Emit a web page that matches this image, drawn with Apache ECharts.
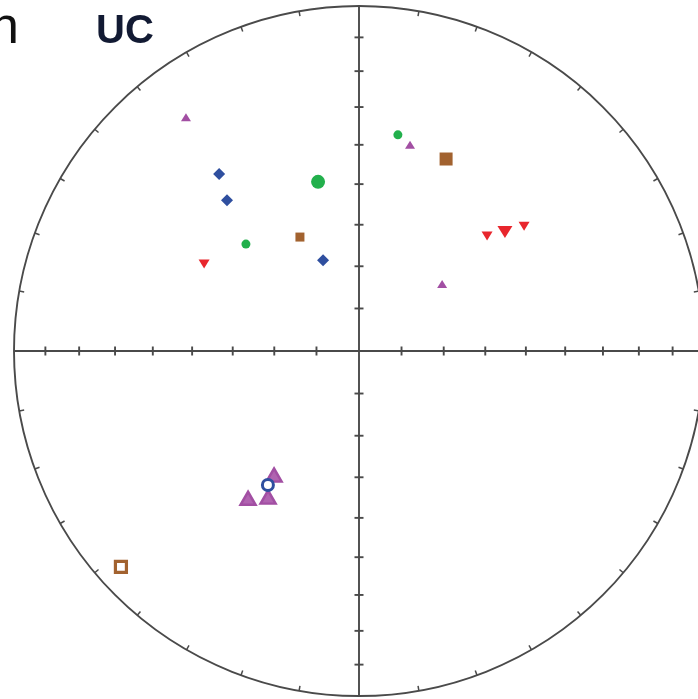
<!DOCTYPE html>
<html>
<head>
<meta charset="utf-8">
<style>
  html, body { margin: 0; padding: 0; background: #fff; }
  #chart { width: 698px; height: 699px; }
</style>
<script src="https://cdn.jsdelivr.net/npm/echarts@6/dist/echarts.min.js"></script>
</head>
<body>
<div id="chart"></div>
<script>
// Orientation data as [trend, plunge] in degrees, plotted on an equal-area (Schmidt) net.
const purpleSmall = [[323.5, 16.8], [13.9, 38.4], [51.1, 64.7]];
const blueDiamond = [[321.7, 34.9], [318.8, 41.5], [338.4, 66.9]];
const greenLarge = [[346.4, 48.2]];
const greenSmall = [[313.4, 52.8], [10.2, 36.5]];
const brownSmall = [[332.6, 59.5]];
const brownLarge = [[24.4, 38.8]];
const redSmall = [[299.3, 47.3], [48.1, 48.7], [52.9, 39.8]];
const redLarge = [[50.8, 44.6]];
const purpleOpen = [[214.4, 54.1], [211.9, 48.7], [217.0, 45.6]];
const blueOpen = [[214.2, 51.2]];
const brownOpen = [[227.8, 7.6]];

// Net furniture: plunge ticks along the N-S / E-W diameters, azimuth ticks on the primitive.
const plungeTicks = [10, 20, 30, 40, 50, 60, 70, 80];
const azimuthStep = 10;

const D2R = Math.PI / 180;
function eqArea(tp) {
  const t = tp[0] * D2R, p = tp[1] * D2R;
  const r = Math.SQRT2 * Math.sin((Math.PI / 2 - p) / 2);
  return [r * Math.sin(t), r * Math.cos(t)];
}
function proj(list) { return list.map(eqArea); }

const frameStroke = '#4a4a4a';

function renderNet(params, api) {
  const c = api.coord([0, 0]);
  const e = api.coord([1, 0]);
  const R = e[0] - c[0];
  const children = [];
  children.push({
    type: 'circle',
    shape: { cx: c[0], cy: c[1], r: R },
    style: { fill: null, stroke: frameStroke, lineWidth: 1.9 }
  });
  children.push({
    type: 'line',
    shape: { x1: c[0] - R, y1: c[1], x2: c[0] + R, y2: c[1] },
    style: { stroke: frameStroke, lineWidth: 1.9 }
  });
  children.push({
    type: 'line',
    shape: { x1: c[0], y1: c[1] - R, x2: c[0], y2: c[1] + R },
    style: { stroke: frameStroke, lineWidth: 1.9 }
  });
  // plunge ticks on both diameters
  plungeTicks.forEach(function (pl) {
    const rr = Math.SQRT2 * Math.sin((90 - pl) / 2 * D2R) * R;
    const h = 4.5;
    [1, -1].forEach(function (s) {
      children.push({
        type: 'line',
        shape: { x1: c[0] + s * rr, y1: c[1] - h, x2: c[0] + s * rr, y2: c[1] + h },
        style: { stroke: frameStroke, lineWidth: 1.9 }
      });
      children.push({
        type: 'line',
        shape: { x1: c[0] - h, y1: c[1] + s * rr, x2: c[0] + h, y2: c[1] + s * rr },
        style: { stroke: frameStroke, lineWidth: 1.9 }
      });
    });
  });
  // azimuth ticks on the primitive circle, pointing inward
  for (let a = 0; a < 360; a += azimuthStep) {
    if (a % 90 === 0) continue;
    const sx = Math.sin(a * D2R), sy = -Math.cos(a * D2R);
    const L = 5;
    children.push({
      type: 'line',
      shape: {
        x1: c[0] + sx * R, y1: c[1] + sy * R,
        x2: c[0] + sx * (R - L), y2: c[1] + sy * (R - L)
      },
      style: { stroke: frameStroke, lineWidth: 1.5 }
    });
  }
  return { type: 'group', children: children };
}

const purple = '#a24fa3';
const blue = '#2f4f9f';
const green = '#22b04c';
const brown = '#a2622f';
const red = '#e8262d';

function pts(name, list, symbol, size, style, rotate, z) {
  return {
    name: name,
    type: 'scatter',
    data: proj(list),
    symbol: symbol,
    symbolSize: size,
    symbolRotate: rotate || 0,
    itemStyle: Object.assign({ opacity: 1 }, style),
    z: z || 3,
    silent: true
  };
}

const chart = echarts.init(document.getElementById('chart'), null, { renderer: 'canvas' });
chart.setOption({
  animation: false,
  backgroundColor: '#fff',
  grid: { left: 14, top: 6, width: 690, height: 690, outerBoundsMode: 'none', containLabel: false },
  xAxis: { type: 'value', min: -1, max: 1, show: false },
  yAxis: { type: 'value', min: -1, max: 1, show: false },
  graphic: [
    {
      type: 'text', left: -10, top: 3,
      style: { text: 'n', font: 'normal 52px "Liberation Sans", Arial, sans-serif', fill: '#111' }
    },
    {
      type: 'text', left: 96, top: 12,
      style: { text: 'UC', font: 'bold 40px "Liberation Sans", Arial, sans-serif', fill: '#121a33' }
    }
  ],
  series: [
    {
      type: 'custom',
      renderItem: renderNet,
      data: [[0, 0]],
      silent: true,
      z: 1
    },
    pts('purpleSmall', purpleSmall, 'triangle', [10, 8], { color: purple }),
    pts('blueDiamond', blueDiamond, 'diamond', [12, 12], { color: blue }),
    pts('greenLarge', greenLarge, 'circle', 14, { color: green }),
    pts('greenSmall', greenSmall, 'circle', 9, { color: green }),
    pts('brownSmall', brownSmall, 'rect', 9, { color: brown }),
    pts('brownLarge', brownLarge, 'rect', 13, { color: brown }),
    pts('redSmall', redSmall, 'triangle', [11, 9], { color: red }, 180),
    pts('redLarge', redLarge, 'triangle', [15, 12], { color: red }, 180),
    pts('purpleOpen', purpleOpen, 'triangle', [15, 13], { color: '#b063b0', borderColor: purple, borderWidth: 2.5 }),
    pts('blueOpen', blueOpen, 'circle', 11, { color: '#fff', borderColor: blue, borderWidth: 3 }, 0, 4),
    pts('brownOpen', brownOpen, 'rect', 11, { color: '#fff', borderColor: brown, borderWidth: 3.2 })
  ]
});
</script>
</body>
</html>
